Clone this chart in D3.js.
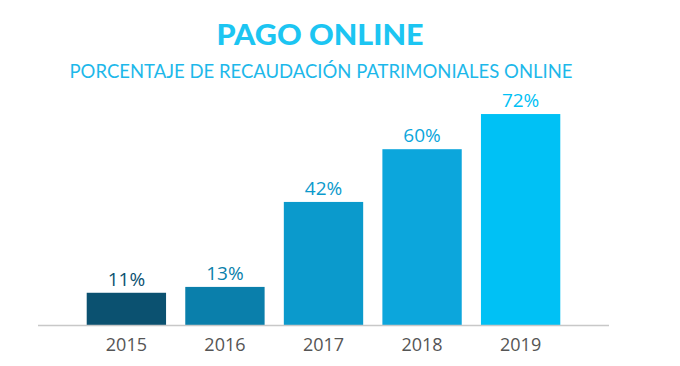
<!DOCTYPE html>
<html>
<head>
<meta charset="utf-8">
<script src="https://cdn.jsdelivr.net/npm/d3@7"></script>
<style>
  body { margin: 0; background: #fff; }
  svg { display: block; font-family: "Lato", "Open Sans", sans-serif; }
</style>
</head>
<body>
<div id="chart"></div>
<script>
// data
var years = ["2015", "2016", "2017", "2018", "2019"];
var values = [11, 13, 42, 60, 72];
var labels = ["11%", "13%", "42%", "60%", "72%"];
var barColors = ["#0b5170", "#0a7fab", "#0b9acc", "#0ca6dc", "#00c1f5"];

var width = 680, height = 366;
var margin = { top: 0, right: 71, bottom: 41, left: 38 };

var svg = d3.select("#chart")
    .append("svg")
    .attr("width", width)
    .attr("height", height);

// title + subtitle
svg.append("text")
    .text("PAGO ONLINE")
    .attr("x", 320)
    .attr("y", 45)
    .attr("text-anchor", "middle")
    .attr("textLength", 207)
    .attr("lengthAdjust", "spacingAndGlyphs")
    .style("font-size", "28px")
    .style("font-weight", "900")
    .style("fill", "#1cc5f2");

svg.append("text")
    .text("PORCENTAJE DE RECAUDACIÓN PATRIMONIALES ONLINE")
    .attr("x", 321)
    .attr("y", 78)
    .attr("text-anchor", "middle")
    .attr("textLength", 503)
    .attr("lengthAdjust", "spacingAndGlyphs")
    .style("font-size", "20px")
    .style("fill", "#1db8ea");

var baseline = height - margin.bottom;

var x = d3.scaleBand()
    .domain(years)
    .range([67, 580])
    .paddingInner(0.195)
    .paddingOuter(0.2);

var y = d3.scaleLinear()
    .domain([0, 100])
    .range([baseline, baseline - 293]);

var g = svg.append("g");

g.selectAll(".bar")
    .data(years)
    .enter().append("rect")
    .attr("class", "bar")
    .attr("x", function(d) { return x(d); })
    .attr("width", x.bandwidth())
    .attr("y", function(d, i) { return y(values[i]); })
    .attr("height", function(d, i) { return baseline - y(values[i]); })
    .style("fill", function(d, i) { return barColors[i]; });

g.selectAll(".value-label")
    .data(years)
    .enter().append("text")
    .attr("class", "value-label")
    .text(function(d, i) { return labels[i]; })
    .attr("x", function(d) { return x(d) + x.bandwidth() / 2; })
    .attr("y", function(d, i) { return y(values[i]) - 7; })
    .attr("text-anchor", "middle")
    .style("font-family", "'Open Sans', sans-serif")
    .style("font-size", "19px")
    .style("fill", function(d, i) { return barColors[i]; });

// baseline axis
var axis = d3.axisBottom(x).tickSize(0).tickPadding(13);

var axisG = svg.append("g")
    .attr("transform", "translate(0," + baseline + ")")
    .call(axis);

axisG.select(".domain").remove();
axisG.append("line")
    .attr("x1", margin.left)
    .attr("x2", 609)
    .attr("y1", 0.5)
    .attr("y2", 0.5)
    .style("stroke", "#c8c8c8")
    .style("stroke-width", 1.5);

axisG.selectAll(".tick text")
    .style("font-size", "18px")
    .style("font-family", "'Open Sans', sans-serif")
    .style("fill", "#555")
    .attr("dy", "0.72em");
</script>
</body>
</html>
